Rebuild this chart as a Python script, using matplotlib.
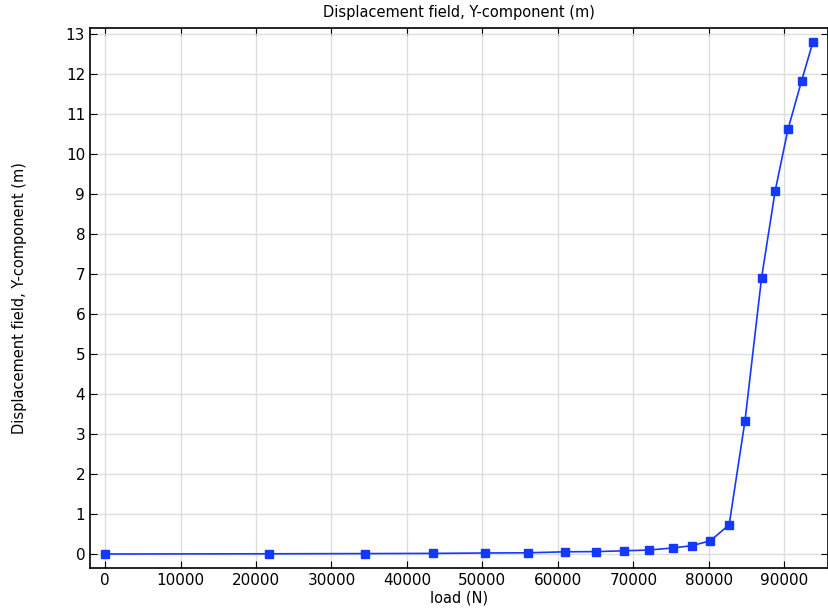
import matplotlib.pyplot as plt
import numpy as np

# load (N) vs displacement Y-component (m)
load = [0, 21700, 34400, 43400, 50400, 56100, 61000, 65100, 68800, 72100,
        75200, 77800, 80200, 82700, 84800, 87000, 88800, 90500, 92300, 93800]
disp = [0.0, 0.005, 0.01, 0.015, 0.025, 0.03, 0.055, 0.06, 0.08, 0.1,
        0.15, 0.21, 0.33, 0.73, 3.33, 6.91, 9.08, 10.62, 11.83, 12.8]

xticks = list(range(0, 100000, 10000))
yticks = list(range(0, 14))

color = '#1538ff'

fig = plt.figure(figsize=(8.29, 6.14), dpi=100)
ax = fig.add_axes([90 / 829, 1 - 568 / 614, (829 - 91) / 829, (568 - 28) / 614])

ax.plot(load, disp, '-s', color=color, lw=1.2, ms=5.8, mec=color, mfc=color)

ax.set_xlim(-2000, 95800)
ax.set_ylim(-0.35, 13.15)
ax.set_xticks(xticks)
ax.set_yticks(yticks)
ax.grid(True, color='#dddddd', lw=1)
ax.set_axisbelow(True)
ax.tick_params(direction='in', top=True, right=True, length=5, labelsize=11)
for s in ax.spines.values():
    s.set_linewidth(1.2)

ax.set_title('Displacement field, Y-component (m)', fontsize=10.5, pad=8)
ax.set_xlabel('load (N)', fontsize=10.5, labelpad=2)
ax.set_ylabel('Displacement field, Y-component (m)', fontsize=10.5, labelpad=28)

fig.savefig('out.png', dpi=100)
